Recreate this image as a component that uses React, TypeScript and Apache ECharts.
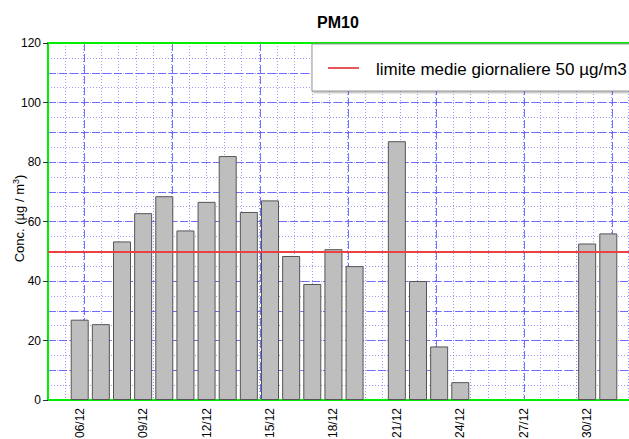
import React, { useEffect, useRef } from "react";
import * as echarts from "echarts";

const days = [
  "05/12", "06/12", "07/12", "08/12", "09/12", "10/12", "11/12", "12/12", "13/12", "14/12",
  "15/12", "16/12", "17/12", "18/12", "19/12", "20/12", "21/12", "22/12", "23/12", "24/12",
  "25/12", "26/12", "27/12", "28/12", "29/12", "30/12", "31/12", "01/01",
];
const pm10: (number | null)[] = [
  null, 27, 25.5, 53.3, 62.8, 68.5, 57, 66.6, 82, 63.2,
  67.1, 48.4, 39, 50.7, 45, null, 87, 40, 18, 6,
  null, null, null, null, null, 52.6, 56, null,
];
const limitValue = 50;
const titleText = "PM10";
const yAxisName = "Conc. (µg / m{sup|3})";
const legendText = "limite medie giornaliere 50 µg/m3";

export default function App() {
  const ref = useRef<HTMLDivElement>(null);
  useEffect(() => {
    if (!ref.current) return;
    document.body.style.overflow = "hidden";
    const chart = echarts.init(ref.current, null, { renderer: "svg" });
    const font = "Liberation Sans, Arial, sans-serif";
    const hiddenAxis = {
      axisLine: { show: false, onZero: false },
      axisTick: { show: false },
      axisLabel: { show: false },
    };
    const dotted = { color: "rgba(90,90,255,0.6)", type: [1, 2], width: 1 };
    const dashed = { color: "rgba(80,80,255,0.8)", type: [8, 3], width: 1 };
    chart.setOption({
      animation: false,
      backgroundColor: "#ffffff",
      title: {
        text: titleText,
        left: 312,
        top: 9,
        textStyle: { fontFamily: font, fontSize: 16, fontWeight: "bold", color: "#000" },
      },
      grid: [
        {
          left: 48,
          top: 43,
          right: 0,
          bottom: 39,
          outerBoundsMode: "none",
          containLabel: false,
          show: true,
          borderColor: "#00ee00",
          borderWidth: 2,
          backgroundColor: "transparent",
          z: 2,
        },
        {
          left: 84.2,
          top: 43,
          right: 0,
          bottom: 39,
          outerBoundsMode: "none",
          containLabel: false,
          show: false,
        },
      ],
      xAxis: [
        {
          type: "category",
          gridIndex: 0,
          data: days,
          position: "bottom",
          axisLine: { show: true, onZero: false, lineStyle: { color: "#00ee00", width: 2 } },
          axisTick: { show: false },
          axisLabel: {
            interval: (i: number) => i % 3 === 1,
            rotate: 90,
            fontFamily: font,
            fontSize: 12,
            color: "#000",
            margin: 8,
          },
          splitLine: { show: false },
        },
        {
          type: "value",
          gridIndex: 0,
          min: -2,
          max: 31.64,
          interval: 1,
          position: "top",
          ...hiddenAxis,
          splitLine: { show: true, lineStyle: dotted },
        },
        {
          type: "value",
          gridIndex: 1,
          min: 0,
          max: 31.58,
          interval: 5,
          position: "top",
          ...hiddenAxis,
          splitLine: { show: true, lineStyle: dashed },
        },
      ],
      yAxis: [
        {
          type: "value",
          gridIndex: 0,
          min: 0,
          max: 120,
          interval: 20,
          position: "left",
          name: yAxisName,
          nameLocation: "middle",
          nameGap: 21,
          nameMoveOverlap: false,
          nameTextStyle: {
            fontFamily: font,
            fontSize: 13,
            color: "#000",
            lineHeight: 16,
            padding: [0, 0, 0, 6],
            rich: {
              sup: {
                fontFamily: font,
                fontSize: 9,
                color: "#000",
                lineHeight: 16,
                verticalAlign: "top",
              },
            },
          },
          axisLine: { show: true, onZero: false, lineStyle: { color: "#00ee00", width: 2 } },
          axisTick: { show: true, length: 5, lineStyle: { color: "#333" } },
          axisLabel: { fontFamily: font, fontSize: 12, color: "#000", margin: 7 },
          splitLine: { show: false },
          z: 3,
        },
        {
          type: "value",
          gridIndex: 0,
          min: 0,
          max: 120,
          interval: 5,
          position: "left",
          ...hiddenAxis,
          splitLine: { show: true, lineStyle: dotted },
        },
        {
          type: "value",
          gridIndex: 0,
          min: 0,
          max: 120,
          interval: 10,
          position: "left",
          ...hiddenAxis,
          splitLine: { show: true, lineStyle: dashed },
        },
        {
          type: "value",
          gridIndex: 1,
          min: 0,
          max: 120,
          position: "left",
          ...hiddenAxis,
          splitLine: { show: false },
        },
      ],
      series: [
        {
          type: "bar",
          xAxisIndex: 0,
          yAxisIndex: 0,
          data: pm10,
          barWidth: 18,
          z: 4,
          itemStyle: { color: "#bebebe", borderColor: "#555", borderWidth: 1 },
          markLine: {
            silent: true,
            symbol: ["none", "none"],
            label: { show: false },
            lineStyle: { color: "#ee4040", width: 2, type: "solid" },
            data: [{ yAxis: limitValue }],
          },
        },
      ],
      graphic: [
        {
          type: "rect",
          shape: { x: 312, y: 44, width: 340, height: 47 },
          style: {
            fill: "#fff",
            stroke: "#999",
            lineWidth: 1,
            shadowBlur: 2,
            shadowOffsetX: 1,
            shadowOffsetY: 1,
            shadowColor: "rgba(0,0,0,0.4)",
          },
          z: 100,
        },
        {
          type: "line",
          shape: { x1: 328, y1: 68, x2: 359, y2: 68 },
          style: { stroke: "#e02020", lineWidth: 1.5 },
          z: 101,
        },
        {
          type: "text",
          x: 376,
          y: 69,
          style: {
            text: legendText,
            fontFamily: font,
            fontSize: 17,
            fill: "#000",
            textVerticalAlign: "middle",
          },
          z: 101,
        },
      ],
    });
    return () => chart.dispose();
  }, []);
  return (
    <div
      ref={ref}
      style={{ position: "fixed", left: 0, top: 0, width: 640, height: 439 }}
    />
  );
}
